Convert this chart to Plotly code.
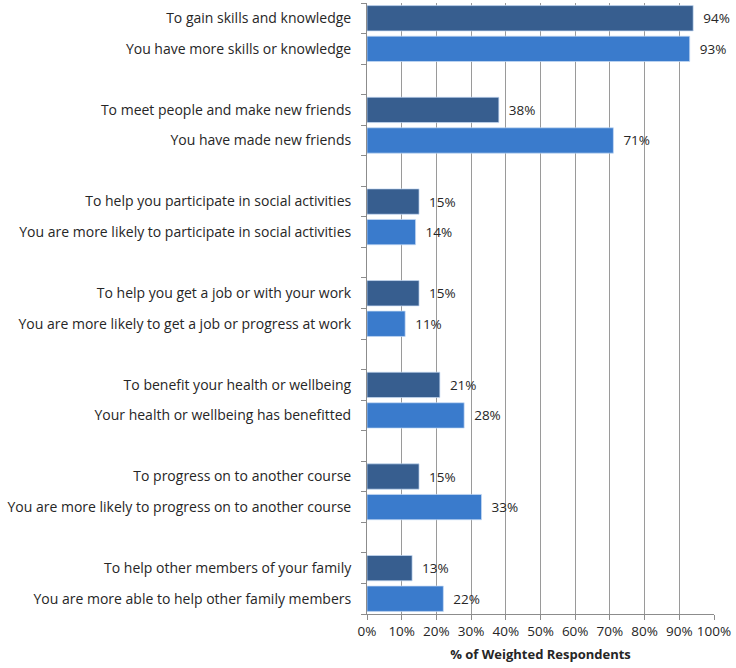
import plotly.graph_objects as go

# Survey reasons (dark) paired with reported outcomes (light)
reasons = [
    "To gain skills and knowledge",
    "To meet people and make new friends",
    "To help you participate in social activities",
    "To help you get a job or with your work",
    "To benefit your health or wellbeing",
    "To progress on to another course",
    "To help other members of your family",
]
outcomes = [
    "You have more skills or knowledge",
    "You have made new friends",
    "You are more likely to participate in social activities",
    "You are more likely to get a job or progress at work",
    "Your health or wellbeing has benefitted",
    "You are more likely to progress on to another course",
    "You are more able to help other family members",
]
reason_pct = [94, 38, 15, 15, 21, 15, 13]
outcome_pct = [93, 71, 14, 11, 28, 33, 22]
x_ticks = [0, 10, 20, 30, 40, 50, 60, 70, 80, 90, 100]

# Each group takes three slots: reason, outcome, blank spacer
reason_pos = [3 * i for i in range(len(reasons))]
outcome_pos = [3 * i + 1 for i in range(len(outcomes))]
n_slots = 3 * len(reasons) - 1

DARK = "#375E8F"
LIGHT = "#3A7BCC"
TEXT = "#262626"
FONT = "Open Sans, Liberation Sans, sans-serif"

fig = go.Figure()
for pos, vals, col in [(reason_pos, reason_pct, DARK), (outcome_pos, outcome_pct, LIGHT)]:
    fig.add_trace(go.Bar(
        y=pos, x=vals, orientation="h", width=0.83,
        marker=dict(color=col, line=dict(color="rgba(200,220,245,0.7)", width=1)),
        text=[f"  {v}%" for v in vals], textposition="outside",
        textfont=dict(family=FONT, size=13.5, color=TEXT),
        cliponaxis=False, showlegend=False, hoverinfo="skip",
    ))

tick_pos = []
tick_text = []
for i in range(len(reasons)):
    tick_pos += [reason_pos[i], outcome_pos[i]]
    tick_text += [reasons[i], outcomes[i]]

fig.update_layout(
    width=736, height=668,
    margin=dict(l=367, r=22, t=3, b=54),
    paper_bgcolor="white", plot_bgcolor="white",
    barmode="overlay",
    font=dict(family=FONT, size=13.5, color=TEXT),
    xaxis=dict(
        range=[0, 100], tickvals=x_ticks, ticktext=[f"{v}%" for v in x_ticks],
        showgrid=True, gridcolor="#9A9A9A", gridwidth=1,
        showline=True, linecolor="#8C8C8C", linewidth=1,
        ticks="outside", ticklen=5, tickcolor="#8C8C8C",
        zeroline=False,
        tickfont=dict(family=FONT, size=13.5, color=TEXT),
        title=dict(text="<b>% of Weighted Respondents</b>",
                   font=dict(family=FONT, size=13, color=TEXT), standoff=10),
    ),
    yaxis=dict(
        range=[n_slots - 0.5, -0.5],
        tickvals=tick_pos, ticktext=tick_text, ticks="",
        showgrid=False, zeroline=False,
        showline=True, linecolor="#8C8C8C", linewidth=1,
        ticklabelstandoff=12,
        tickfont=dict(family=FONT, size=14, color=TEXT),
        minor=dict(ticks="outside", tick0=-0.5, dtick=1, ticklen=5,
                   tickcolor="#8C8C8C", showgrid=False),
    ),
)

fig.write_html("out.html")
